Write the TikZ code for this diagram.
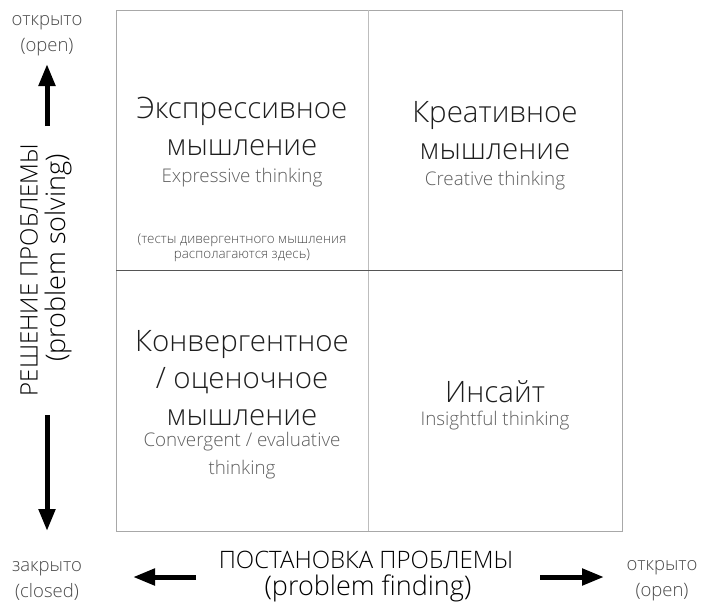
\documentclass[tikz,border=0pt]{standalone}
\usepackage{fontspec}
\setmainfont{Open Sans}[UprightFont={* Light}]
\usetikzlibrary{arrows.meta,positioning}

\definecolor{titlegray}{HTML}{1E1E1E}
\definecolor{subgray}{HTML}{5E5E5E}
\definecolor{notegray}{HTML}{4A4A4A}
\definecolor{framegray}{HTML}{A8A8A8}
\definecolor{splitgray}{HTML}{BDBDBD}
\definecolor{midgray}{HTML}{555555}

\tikzset{
    frame/.style = {
        draw=framegray,
        line width=1pt
    },
    title/.style = {
        align=center,
        inner sep=0pt,
        text=titlegray,
        font=\fontsize{29.5}{37}\selectfont
    },
    sub/.style = {
        align=center,
        inner sep=0pt,
        text=subgray,
        font=\fontsize{18.8}{28}\selectfont
    },
    note/.style = {
        align=center,
        inner sep=0pt,
        text=notegray,
        font=\fontsize{13.4}{15.5}\selectfont
    },
    axis/.style = {
        inner sep=0pt,
        text=black,
        font=\fontsize{24}{26}\selectfont
    },
    axisen/.style = {
        inner sep=0pt,
        text=black,
        font=\fontsize{27}{26}\selectfont
    },
    ends/.style = {
        align=center,
        inner sep=0pt,
        text=notegray,
        font=\fontsize{18.5}{26}\selectfont
    },
    bigarrow/.style = {
        line width=5pt,
        -{Triangle[length=22pt,width=16pt]}
    }
}

\begin{document}
\begin{tikzpicture}[x=1pt,y=-1pt]
    \useasboundingbox (0,0) rectangle (708,606);

    % Grid
    \draw[frame] (116,10) rectangle (622,531);
    \draw[draw=splitgray, line width=1pt] (368,10) -- (368,531);
    \draw[draw=midgray, line width=1pt] (116,270) -- (622,270);

    % Quadrant texts
    \node[title] (expr) at (242,126) {Экспрессивное\\мышление};
    \node[sub] (exprEn) at (242,178) {Expressive thinking};
    \node[note] (exprNote) at (242,248) {(тесты дивергентного мышления\\располагаются здесь)};

    \node[title] (crea) at (495,131) {Креативное\\мышление};
    \node[sub] (creaEn) at (495,181) {Creative thinking};

    \node[title] (conv) at (242,378) {Конвергентное\\/ оценочное\\мышление};
    \node[sub] (convEn) at (242,456) {Convergent / evaluative\\thinking};

    \node[title] (ins) at (495,392) {Инсайт};
    \node[sub] (insEn) at (495,421) {Insightful thinking};

    % Left axis
    \node[axis, rotate=90] (solve) at (29,270) {РЕШЕНИЕ ПРОБЛЕМЫ};
    \node[axisen, rotate=90] (solveEn) at (58,258) {(problem solving)};
    \node[ends] (topOpen) at (47,36) {открыто\\(open)};
    \node[ends] (botClosed) at (47,581) {закрыто\\(closed)};
    \coordinate (upTail) at (47,126);
    \coordinate (upTip) at (47,64);
    \coordinate (downTail) at (47,415);
    \coordinate (downTip) at (47,531);
    \draw[bigarrow] (upTail) -- (upTip);
    \draw[bigarrow] (downTail) -- (downTip);

    % Bottom axis
    \node[axis] (find) at (366,560) {ПОСТАНОВКА ПРОБЛЕМЫ};
    \node[axisen] (findEn) at (368,588) {(problem finding)};
    \node[ends] (rightOpen) at (662,581) {открыто\\(open)};
    \coordinate (leftTail) at (196,577);
    \coordinate (leftTip) at (133,577);
    \coordinate (rightTail) at (540,577);
    \coordinate (rightTip) at (604,577);
    \draw[bigarrow] (leftTail) -- (leftTip);
    \draw[bigarrow] (rightTail) -- (rightTip);
\end{tikzpicture}
\end{document}
